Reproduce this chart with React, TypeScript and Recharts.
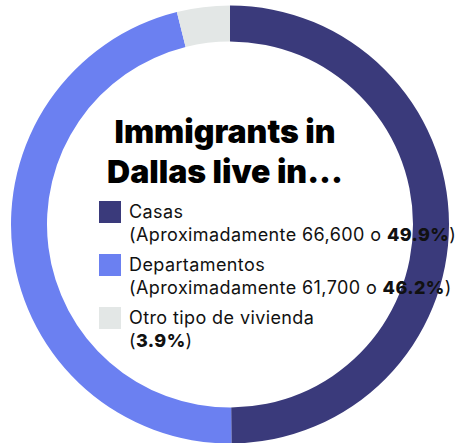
import { Legend, Pie, PieChart, Cell } from "recharts";

const categories = ["Casas", "Departamentos", "Otro tipo de vivienda"];
const shares = [49.9, 46.2, 3.9];
const counts = ["66,600", "61,700", ""];
const colors = ["#3a3a7b", "#6b80f1", "#e3e7e6"];

const data = categories.map((name, i) => ({ name, value: shares[i] }));

const font = "Inter, 'Noto Sans', sans-serif";

function HousingLegend() {
  return (
    <div style={{ fontFamily: font, fontSize: 18, lineHeight: "23px", letterSpacing: 0.4, color: "#111" }}>
      {categories.map((name, i) => (
        <div key={name} style={{ display: "flex", marginBottom: 7 }}>
          <div style={{ width: 22, height: 22, background: colors[i], marginTop: 1, flexShrink: 0 }} />
          <div style={{ marginLeft: 8, whiteSpace: "nowrap" }}>
            <div>{name}</div>
            <div>
              ({counts[i] ? `Aproximadamente ${counts[i]} o ` : ""}
              <b style={{ fontWeight: 800 }}>{shares[i]}%</b>)
            </div>
          </div>
        </div>
      ))}
    </div>
  );
}

export default function App() {
  return (
    <div style={{ position: "fixed", left: 0, top: 0, width: 462, height: 443, background: "#fff" }}>
      <PieChart width={462} height={443} margin={{ top: 0, right: 0, bottom: 0, left: 0 }}>
        <Pie
          data={data}
          dataKey="value"
          nameKey="name"
          cx={230}
          cy={224.5}
          outerRadius={219}
          innerRadius={183}
          startAngle={90}
          endAngle={-270}
          stroke="none"
          isAnimationActive={false}
        >
          {data.map((entry, i) => (
            <Cell key={entry.name} fill={colors[i]} />
          ))}
        </Pie>
        <Legend
          content={() => <HousingLegend />}
          wrapperStyle={{ position: "absolute", left: 99, top: 200, width: 363 }}
        />
      </PieChart>
      <div
        style={{
          position: "absolute",
          left: 100,
          width: 250,
          top: 112,
          textAlign: "center",
          fontFamily: font,
          fontWeight: 900,
          fontSize: 32,
          lineHeight: "40px",
          color: "#000",
        }}
      >
        Immigrants in
        <br />
        Dallas live in...
      </div>
    </div>
  );
}
